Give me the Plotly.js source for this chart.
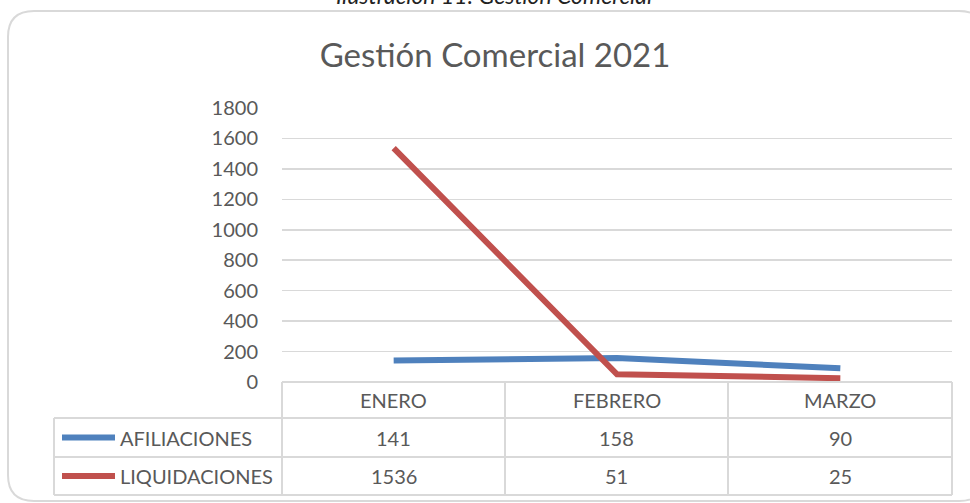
<!DOCTYPE html>
<html>
<head>
<meta charset="utf-8">
<script src="https://cdn.plot.ly/plotly-3.0.1.min.js"></script>
<style>html,body{margin:0;padding:0;background:#fff;}#chart{width:970px;height:503px;}</style>
</head>
<body>
<div id="chart"></div>
<script>
const categories = ['ENERO', 'FEBRERO', 'MARZO'];
const seriesNames = ['AFILIACIONES', 'LIQUIDACIONES'];
const afiliaciones = [141, 158, 90];
const liquidaciones = [1536, 51, 25];
const seriesColors = ['#4f81bd', '#c0504d'];
const yTickVals = [0, 200, 400, 600, 800, 1000, 1200, 1400, 1600, 1800];
const chartTitle = 'Gestión Comercial 2021';
const caption = 'Ilustración 11: Gestión Comercial';

const W = 970, H = 503;
const PL = 282, PR = 952, PT = 108, PB = 382;
const xp = p => (p - PL) / (PR - PL);
const yp = p => (PB - p) / (PB - PT);
const FONT = 'Lato, "Open Sans", sans-serif';
const TXT = '#595959';
const GRID = '#d9d9d9';
const FS = 20;

const seriesValues = [afiliaciones, liquidaciones];
const xIdx = categories.map((c, i) => i);
const traces = seriesNames.map((n, k) => ({
  type: 'scatter', mode: 'lines', name: n,
  x: xIdx, y: seriesValues[k],
  line: {color: seriesColors[k], width: 6},
  hoverinfo: 'skip'
}));

const shapes = [];
const annotations = [];
function hline(y, x0, x1) {
  shapes.push({type: 'line', xref: 'paper', yref: 'paper', x0: xp(x0), x1: xp(x1), y0: yp(y), y1: yp(y), line: {color: GRID, width: 2}});
}
function vline(x, y0, y1) {
  shapes.push({type: 'line', xref: 'paper', yref: 'paper', x0: xp(x), x1: xp(x), y0: yp(y0), y1: yp(y1), line: {color: GRID, width: 2}});
}
// table grid
const colEdges = [282, 505, 728, 952];
const rowEdges = [382, 418, 457, 495];
hline(382, 282, 952);
for (let r = 1; r < rowEdges.length; r++) hline(rowEdges[r], 54, 952);
vline(54, 418, 495);
colEdges.forEach(x => vline(x, 382, 495));

// header labels
const rowCenters = [400, 437.5, 476];
categories.forEach((c, i) => {
  annotations.push({xref: 'paper', yref: 'paper', x: xp((colEdges[i] + colEdges[i + 1]) / 2), y: yp(rowCenters[0]),
    text: c, showarrow: false, xanchor: 'center', yanchor: 'middle', font: {family: FONT, size: FS, color: TXT}});
});
seriesNames.forEach((n, k) => {
  const yc = rowCenters[k + 1];
  shapes.push({type: 'line', xref: 'paper', yref: 'paper', x0: xp(62), x1: xp(115), y0: yp(yc), y1: yp(yc),
    line: {color: seriesColors[k], width: 6}});
  annotations.push({xref: 'paper', yref: 'paper', x: xp(118), y: yp(yc), text: n, showarrow: false,
    xanchor: 'left', yanchor: 'middle', font: {family: FONT, size: FS, color: TXT}});
  seriesValues[k].forEach((v, i) => {
    annotations.push({xref: 'paper', yref: 'paper', x: xp((colEdges[i] + colEdges[i + 1]) / 2), y: yp(yc),
      text: String(v), showarrow: false, xanchor: 'center', yanchor: 'middle', font: {family: FONT, size: FS, color: TXT}});
  });
});

// outer rounded border
const bx0 = 8, by0 = 11, bx1 = 985, by1 = 501, rr = 26;
const P = (x, y) => xp(x) + ',' + yp(y);
const path = 'M ' + P(bx0 + rr, by0) + ' L ' + P(bx1 - rr, by0) + ' Q ' + P(bx1, by0) + ' ' + P(bx1, by0 + rr) +
  ' L ' + P(bx1, by1 - rr) + ' Q ' + P(bx1, by1) + ' ' + P(bx1 - rr, by1) +
  ' L ' + P(bx0 + rr, by1) + ' Q ' + P(bx0, by1) + ' ' + P(bx0, by1 - rr) +
  ' L ' + P(bx0, by0 + rr) + ' Q ' + P(bx0, by0) + ' ' + P(bx0 + rr, by0) + ' Z';
shapes.push({type: 'path', xref: 'paper', yref: 'paper', path: path, line: {color: '#d9d9d9', width: 2}, layer: 'below'});

// caption (cut at top, as in the reference)
annotations.push({xref: 'paper', yref: 'paper', x: xp(494), y: yp(11), text: '<i>' + caption + '</i>', showarrow: false,
  xanchor: 'center', yanchor: 'bottom', font: {family: FONT, size: 23, color: '#222'}});

const layout = {
  width: W, height: H,
  margin: {l: PL, r: W - PR, t: PT, b: H - PB, pad: 0},
  paper_bgcolor: '#fff', plot_bgcolor: '#fff',
  showlegend: false,
  title: {text: chartTitle, x: 495 / W, xref: 'container', xanchor: 'center', y: 1 - 55 / H, yref: 'container', yanchor: 'middle',
    font: {family: FONT, size: 33, color: TXT}},
  xaxis: {range: [-0.5, categories.length - 0.5], showticklabels: false, showgrid: false, zeroline: false, showline: false, fixedrange: true},
  yaxis: {range: [0, 1800], tickvals: yTickVals, showgrid: true, gridcolor: GRID, gridwidth: 1.5, zeroline: false, showline: false,
    ticks: '', ticklabelstandoff: 23, tickfont: {family: FONT, size: FS, color: TXT}, fixedrange: true},
  shapes: shapes,
  annotations: annotations
};
Plotly.newPlot('chart', traces, layout, {displayModeBar: false, staticPlot: true});
</script>
</body>
</html>
